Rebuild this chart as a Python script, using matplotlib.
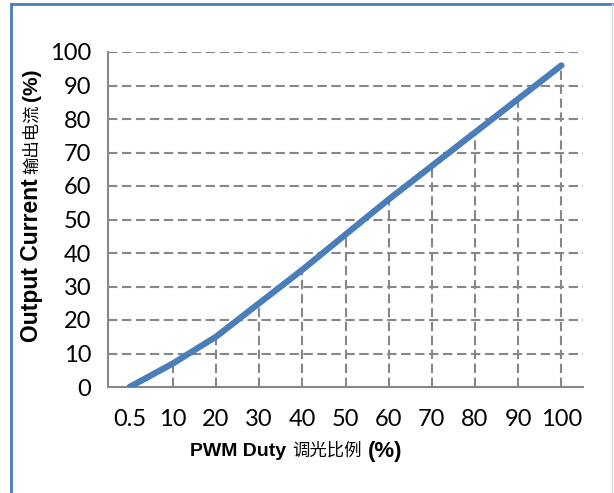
import numpy as np
import matplotlib.pyplot as plt

## data
duty_labels = ["0.5", "10", "20", "30", "40", "50", "60", "70", "80", "90", "100"]
current = [0, 7, 15, 25, 35, 45.5, 56, 66, 76, 86, 96]
y_ticks = list(range(0, 101, 10))

W, H = 614, 493
fig = plt.figure(figsize=(W / 100, H / 100), dpi=100)
ax = fig.add_axes([108 / W, 1 - 387 / H, (583 - 108) / W, (387 - 52) / H])

x = np.arange(len(duty_labels))
grid_col = "#878787"
dash = (0, (4.5, 2.2))

# horizontal grid lines
for yv in y_ticks[1:]:
    ax.axhline(yv, color=grid_col, lw=1.5, ls=dash, zorder=1)

# drop lines from each point down to the axis
ax.vlines(x, 0, current, colors=grid_col, lw=1.5, linestyles=dash, zorder=1)

ax.plot(x, current, color="#4a7ebb", lw=4.5, solid_capstyle="round", zorder=3)

ax.set_xlim(-0.5, len(duty_labels) - 0.5)
ax.set_ylim(0, 100)
ax.set_xticks(x)
ax.set_xticklabels(duty_labels)
ax.set_yticks(y_ticks)

for s in ["top", "right"]:
    ax.spines[s].set_visible(False)
for s in ["left", "bottom"]:
    ax.spines[s].set_color("#878787")
    ax.spines[s].set_linewidth(1.5)

ax.tick_params(axis="both", length=0, labelsize=17, colors="black")
ax.tick_params(axis="y", pad=12)
ax.tick_params(axis="x", pad=16)
for lab in ax.get_xticklabels() + ax.get_yticklabels():
    lab.set_family("Lato")

cjk = ["Noto Sans CJK SC", "DejaVu Sans"]
lat = ["Liberation Sans", "DejaVu Sans"]
renderer = fig.canvas.get_renderer()


def chain(pieces, start, centre, vertical=False):
    # lay out text pieces one after another, in pixel coords
    pos = start
    for txt, fam, wt, size, gap in pieces:
        if vertical:
            t = fig.text(centre / W, 1 - pos / H, txt, family=fam, weight=wt,
                         fontsize=size, rotation=90, ha="center", va="bottom")
            bb = t.get_window_extent(renderer)
            pos = pos - bb.height - gap
        else:
            t = fig.text(pos / W, 1 - centre / H, txt, family=fam, weight=wt,
                         fontsize=size, ha="left", va="center")
            bb = t.get_window_extent(renderer)
            pos = pos + bb.width + gap


chain([("PWM Duty", lat, "bold", 14, 6),
       ("调光比例", cjk, "normal", 12.5, 6),
       ("(%)", lat, "bold", 16, 0)], 190, 451)

chain([("Output Current", lat, "bold", 16.5, 4),
       ("输出电流", cjk, "normal", 12.5, 4),
       ("(%)", lat, "bold", 15, 0)], 342, 32, vertical=True)

# frame around the chart
tf = fig.transFigure
fig.add_artist(plt.Line2D([11 / W, 11 / W], [1 - 4 / H, 0], color="#4a7ebb", lw=2, transform=tf))
fig.add_artist(plt.Line2D([11 / W, 612 / W], [1 - 4 / H, 1 - 4 / H], color="#4a7ebb", lw=2, transform=tf))
fig.add_artist(plt.Line2D([612 / W, 612 / W], [1 - 4 / H, 0], color="#d5dbe3", lw=1, transform=tf))

fig.savefig("out.png", dpi=100)
